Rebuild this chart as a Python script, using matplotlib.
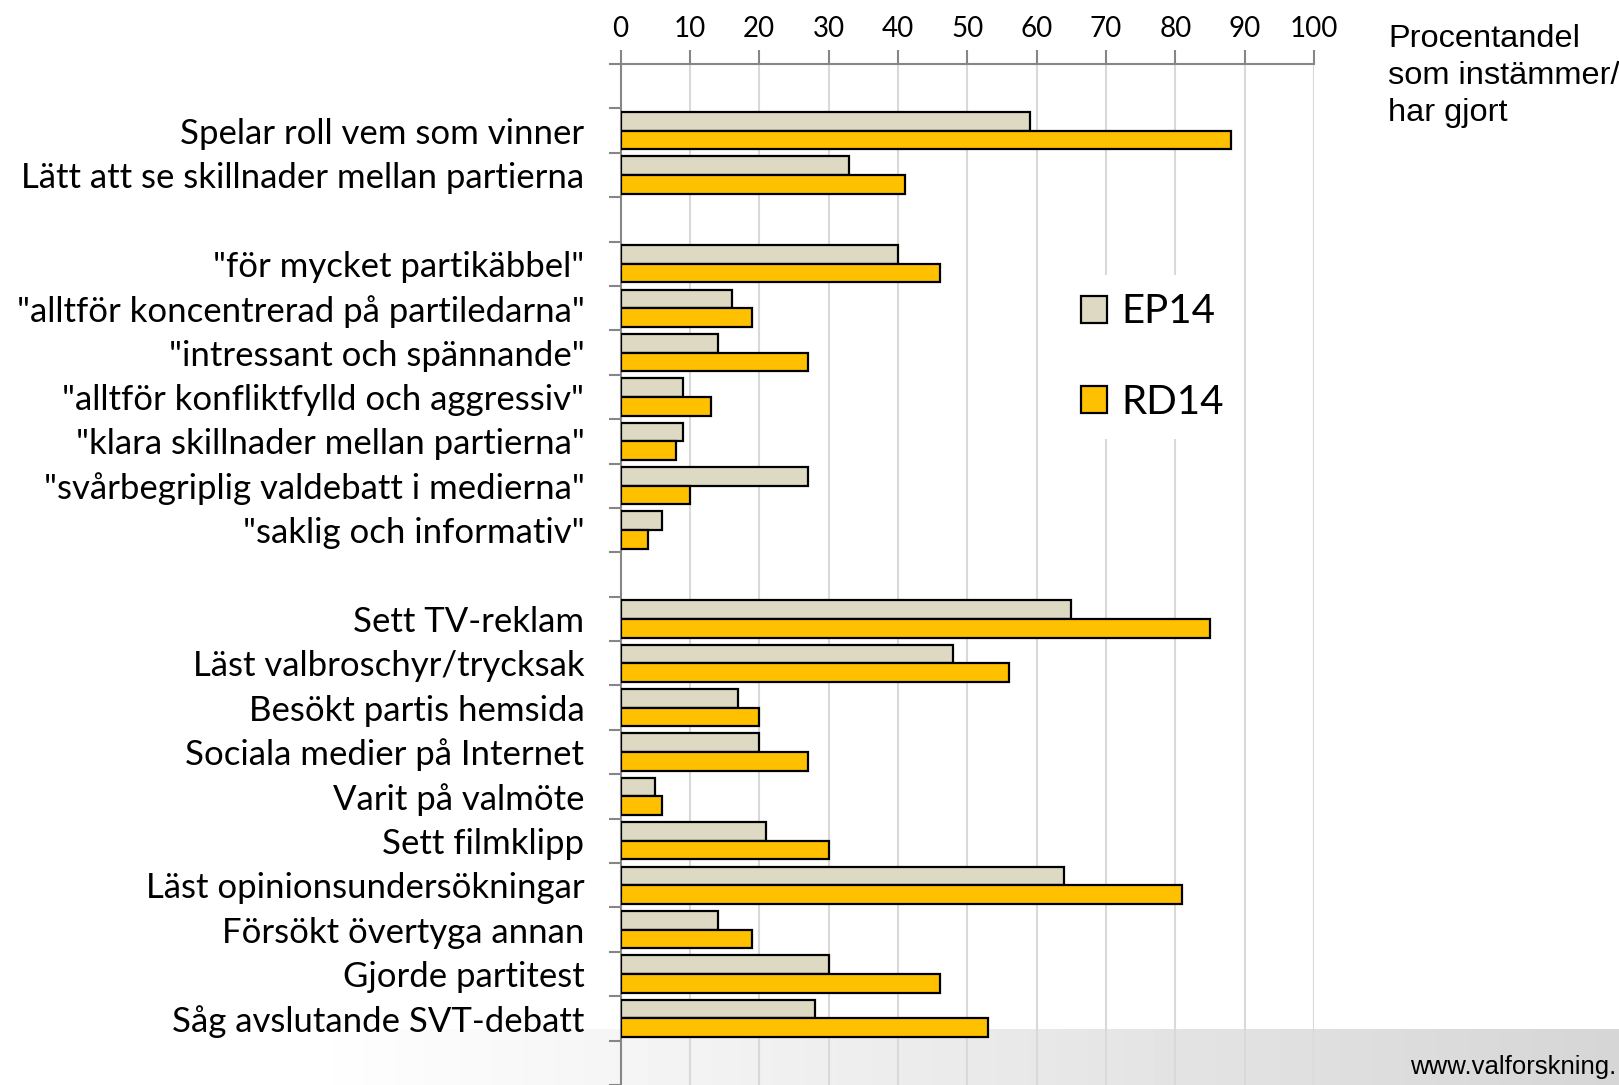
import numpy as np
import matplotlib
matplotlib.use("Agg")
import matplotlib.pyplot as plt
from matplotlib.patches import Patch

plt.rcParams['font.family'] = ['Lato', 'DejaVu Sans']

# three groups of questions, blank row between groups
labels_a = ["Spelar roll vem som vinner", "Lätt att se skillnader mellan partierna"]
ep_a = [59, 33]
rd_a = [88, 41]

labels_b = ['"för mycket partikäbbel"', '"alltför koncentrerad på partiledarna"',
            '"intressant och spännande"', '"alltför konfliktfylld och aggressiv"',
            '"klara skillnader mellan partierna"', '"svårbegriplig valdebatt i medierna"',
            '"saklig och informativ"']
ep_b = [40, 16, 14, 9, 9, 27, 6]
rd_b = [46, 19, 27, 13, 8, 10, 4]

labels_c = ["Sett TV-reklam", "Läst valbroschyr/trycksak", "Besökt partis hemsida",
            "Sociala medier på Internet", "Varit på valmöte", "Sett filmklipp",
            "Läst opinionsundersökningar", "Försökt övertyga annan", "Gjorde partitest",
            "Såg avslutande SVT-debatt"]
ep_c = [65, 48, 17, 20, 5, 21, 64, 14, 30, 28]
rd_c = [85, 56, 20, 27, 6, 30, 81, 19, 46, 53]

series_names = ["EP14", "RD14"]
col_ep = "#ddd9c3"
col_rd = "#ffc000"
grey = "#868686"

# build row list: top blank, group a, blank, group b, blank, group c, bottom blank
labels = [""] + labels_a + [""] + labels_b + [""] + labels_c + [""]
ep = [np.nan] + ep_a + [np.nan] + ep_b + [np.nan] + ep_c + [np.nan]
rd = [np.nan] + rd_a + [np.nan] + rd_b + [np.nan] + rd_c + [np.nan]
pos = np.arange(len(labels))

fig = plt.figure(figsize=(16.19, 10.85), dpi=100)

# grey gradient band at the bottom
bg = fig.add_axes([0, 0, 1, 0.0516], zorder=0)
grad = np.linspace(0, 1, 400)
grad = np.clip((grad - 0.2) / 0.8, 0, 1)
img = 0.997 - 0.16 * grad
bg.imshow(np.tile(img, (10, 1)), cmap="gray", vmin=0, vmax=1, aspect="auto")
bg.axis("off")

ax = fig.add_axes([0.3833, 0.0, 0.4283, 0.941], zorder=1)
ax.set_facecolor("none")
h = 0.42
ax.barh(pos - h / 2, ep, height=h, color=col_ep, edgecolor="black", linewidth=1.6, zorder=3)
ax.barh(pos + h / 2, rd, height=h, color=col_rd, edgecolor="black", linewidth=1.6, zorder=3)

ax.set_xlim(0, 100)
ax.set_ylim(len(labels) - 0.5, -0.5)

ax.xaxis.tick_top()
ax.set_xticks(np.arange(0, 101, 10))
ax.tick_params(axis="x", direction="out", length=10, width=1.5, color=grey,
               labelsize=20, pad=6)
ax.grid(axis="x", color="#d9d9d9", linewidth=1.5, zorder=0)
ax.set_axisbelow(True)

ax.set_yticks(np.arange(-0.5, len(labels), 1.0))
ax.set_yticklabels([])
ax.set_yticks(pos, minor=True)
ax.set_yticklabels(labels, minor=True, fontsize=25)
ax.tick_params(axis="y", which="major", direction="out", length=9, width=1.5, color=grey)
ax.tick_params(axis="y", which="minor", length=0, pad=26)

for s in ["right", "bottom"]:
    ax.spines[s].set_visible(False)
for s in ["top", "left"]:
    ax.spines[s].set_color(grey)
    ax.spines[s].set_linewidth(1.5)

handles = [Patch(facecolor=col_ep, edgecolor="black", linewidth=1.6),
           Patch(facecolor=col_rd, edgecolor="black", linewidth=1.6)]
leg = ax.legend(handles, series_names, loc="center left", bbox_to_anchor=(0.638, 0.713),
                fontsize=29, frameon=True, facecolor="white", edgecolor="none",
                framealpha=1, fancybox=False, handlelength=0.65, handleheight=0.65,
                handletextpad=0.35, labelspacing=1.32, borderpad=0.45, borderaxespad=0)
leg.set_zorder(5)

fig.text(0.8575, 0.978, "Procentandel\nsom instämmer/\nhar gjort", family="Liberation Sans",
         fontsize=23.4, va="top", ha="left", linespacing=1.3)
fig.text(0.871, 0.0166, "www.valforskning.", family="Liberation Sans", fontsize=18.5,
         va="center", ha="left")

fig.savefig("out.png", dpi=100)
